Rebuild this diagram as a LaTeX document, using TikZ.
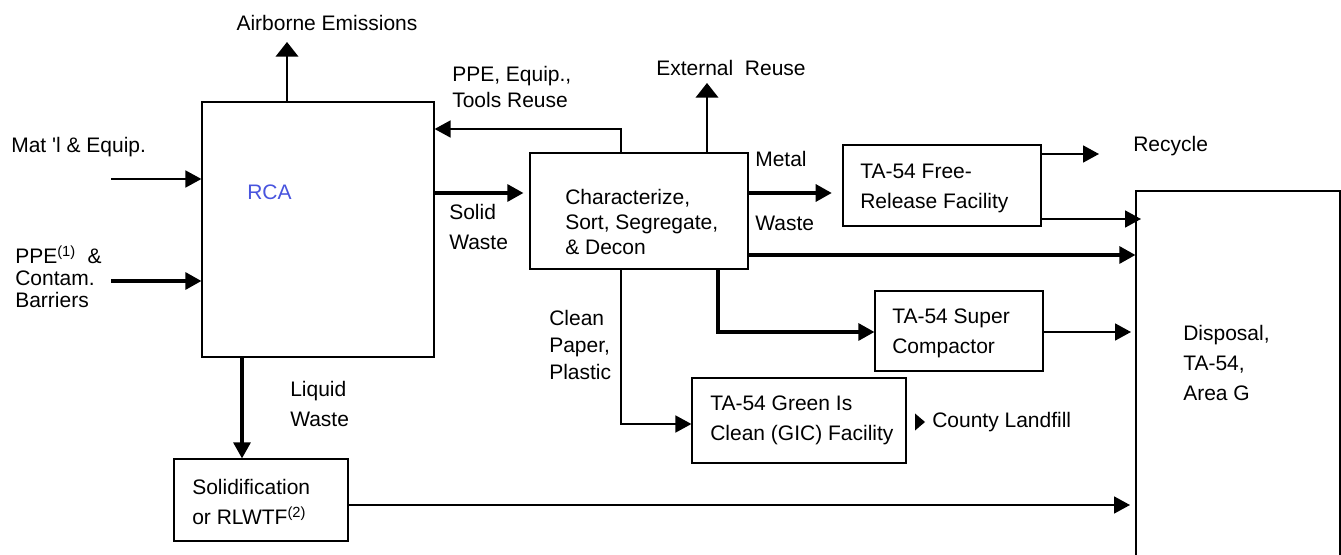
\documentclass[tikz,border=0pt]{standalone}
\usepackage{fontspec}
\setmainfont{Liberation Sans}
\usetikzlibrary{arrows.meta,fit}
\definecolor{rcablue}{RGB}{72,84,222}
\tikzset{
  box/.style={draw, line width=0.9pt, inner sep=0pt},
  lbl/.style={inner sep=0pt, anchor=west, align=left, font=\fontsize{15.75}{21}\selectfont},
  thinflow/.style={line width=1.3pt, -{Triangle[length=12pt,width=12.75pt]}},
  thickflow/.style={line width=2.3pt, -{Triangle[length=12pt,width=12.75pt]}},
  widehead/.style={-{Triangle[length=11pt,width=17pt]}},
}
\begin{document}
\begin{tikzpicture}[x=0.75pt,y=-0.75pt]
\useasboundingbox (0,0) rectangle (1341,555);

% process boxes
\node[box, fit={(202,102)(434,357)}] (rca) {};
\node[box, fit={(530,153)(748,269)}] (sort) {};
\node[box, fit={(843,145)(1041,226)}] (free) {};
\node[box, fit={(875,291)(1043,371)}] (super) {};
\node[box, fit={(692,378)(906,463)}] (gic) {};
\node[box, fit={(174,459)(348,541)}] (solid) {};
\node[box, fit={(1136,191)(1340,575)}] (disp) {};

% box texts
\node[lbl, text=rcablue] (rcatxt) at (247,192) {RCA};
\node[lbl, font=\fontsize{15.75}{18.75}\selectfont] (sorttxt) at (565,222) {Characterize,\\Sort, Segregate,\\\& Decon};
\node[lbl, font=\fontsize{15.75}{22.5}\selectfont] (freetxt) at (860,188) {TA-54 Free-\\Release Facility};
\node[lbl, font=\fontsize{15.75}{22.5}\selectfont] (supertxt) at (892,333) {TA-54 Super\\Compactor};
\node[lbl, font=\fontsize{15.75}{22.5}\selectfont] (gictxt) at (710,420) {TA-54 Green Is\\Clean (GIC) Facility};
\node[lbl, font=\fontsize{15.75}{22.5}\selectfont] (solidtxt) at (192,502) {Solidification\\or RLWTF\textsuperscript{(2)}};
\node[lbl, font=\fontsize{15.75}{22.5}\selectfont] (disptxt) at (1183,363) {Disposal,\\TA-54,\\Area G};

% flow labels
\node[lbl, anchor=center] (airlbl) at (327,23) {Airborne Emissions};
\node[lbl] (matlbl) at (11,147) {Mat \textquotesingle l \& Equip.};
\node[lbl, font=\fontsize{15.75}{16.5}\selectfont] (ppelbl) at (15,277) {PPE\textsuperscript{(1)}\ \ \&\\Contam.\\Barriers};
\node[lbl, font=\fontsize{15.75}{20}\selectfont] (reuselbl) at (452,87) {PPE, Equip.,\\Tools Reuse};
\node[lbl] (extlbl) at (656,68) {External\ \ Reuse};
\node[lbl, font=\fontsize{15.75}{22}\selectfont] (swlbl) at (449,227) {Solid\\Waste};
\node[lbl] (metallbl) at (755,159) {Metal};
\node[lbl] (mwastelbl) at (755,223) {Waste};
\node[lbl] (reclbl) at (1133,146) {Recycle};
\node[lbl, font=\fontsize{15.75}{20.5}\selectfont] (cleanlbl) at (549,345) {Clean\\Paper,\\Plastic};
\node[lbl] (countylbl) at (932,422) {County Landfill};
\node[lbl, font=\fontsize{15.75}{22.5}\selectfont] (liqlbl) at (290,404) {Liquid\\Waste};

% free ends of connectors
\coordinate (airtop) at (287,42);
\coordinate (matin) at (111,179);
\coordinate (ppein) at (111,281);
\coordinate (reuse) at (621,129);
\coordinate (ext) at (707,83);
\coordinate (sw) at (0,193);
\coordinate (rec) at (1099,154);
\coordinate (fd) at (1141,219);
\coordinate (sd) at (0,255);
\coordinate (sc) at (718,332);
\coordinate (cd) at (1131,332);
\coordinate (cp) at (621,424);
\coordinate (lq) at (242,0);
\coordinate (sdp) at (1130,505);

% connectors
\draw[thinflow, widehead] (rca.north -| airtop) -- (airtop);
\draw[thinflow] (matin) -- (matin -| rca.west);
\draw[thickflow] (ppein) -- (ppein -| rca.west);
\draw[thinflow] (sort.north -| reuse) -- (reuse) -- (reuse -| rca.east);
\draw[thinflow, widehead] (sort.north -| ext) -- (ext);
\draw[thickflow, shorten >=4.5pt] (rca.east |- sw) -- (sort.west |- sw);
\draw[thickflow, shorten >=8pt] (sort.east |- sw) -- (free.west |- sw);
\draw[thinflow] (free.east |- rec) -- (rec);
\draw[thinflow] (free.east |- fd) -- (fd);
\draw[thickflow] (sort.east |- sd) -- (disp.west |- sd);
\draw[thickflow] (sort.south -| sc) -- (sc) -- (super.west |- sc);
\draw[thinflow] (super.east |- cd) -- (cd);
\draw[thinflow] (sort.south -| cp) -- (cp) -- (gic.west |- cp);
\draw[thickflow] (rca.south -| lq) -- (solid.north -| lq);
\draw[thinflow] (solid.east |- sdp) -- (sdp);

% marker in front of the landfill label
\fill ([xshift=-12.75pt,yshift=6.4pt]countylbl.west) -- ([xshift=-5.25pt]countylbl.west) -- ([xshift=-12.75pt,yshift=-6.4pt]countylbl.west) -- cycle;
\end{tikzpicture}
\end{document}
